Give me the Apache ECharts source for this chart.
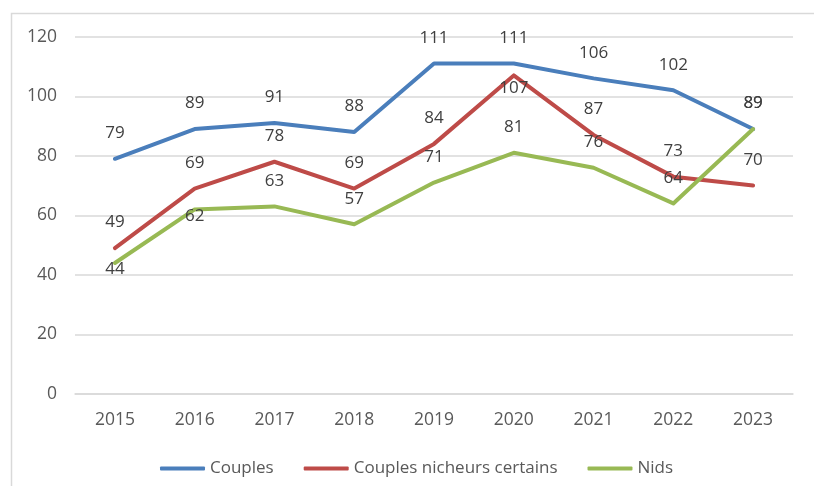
<!DOCTYPE html>
<html>
<head>
<meta charset="utf-8">
<script src="https://cdn.jsdelivr.net/npm/echarts@6/dist/echarts.min.js"></script>
<style>
html,body{margin:0;padding:0;background:#fff;}
#chart{width:814px;height:486px;}
</style>
</head>
<body>
<div id="chart"></div>
<script>
const years = ['2015','2016','2017','2018','2019','2020','2021','2022','2023'];
const couples = [79, 89, 91, 88, 111, 111, 106, 102, 89];
const couplesNicheurs = [49, 69, 78, 69, 84, 107, 87, 73, 70];
const nids = [44, 62, 63, 57, 71, 81, 76, 64, 89];
const yTicks = {min: 0, max: 120, interval: 20};

// manual label nudges (pixels, vertical) for labels moved in the original
const labelNudge = {
  couplesNicheurs: {5: 38},
  nids: {0: 32, 1: 32}
};

const FONT = '"Open Sans", "Liberation Sans", sans-serif';

function withNudges(values, nudges) {
  return values.map((v, i) => {
    if (nudges && nudges[i] !== undefined) {
      return {value: v, label: {offset: [0, nudges[i]]}};
    }
    return v;
  });
}

function lineSeries(name, values, color, nudges) {
  return {
    name: name,
    type: 'line',
    data: withNudges(values, nudges),
    symbol: 'circle',
    symbolSize: 0.1,
    showSymbol: true,
    showAllSymbol: true,
    lineStyle: {width: 4, color: color, cap: 'round', join: 'round'},
    itemStyle: {color: color},
    label: {
      show: true,
      position: 'top',
      distance: 17,
      color: '#404040',
      fontFamily: FONT,
      fontSize: 17,
      lineHeight: 17
    },
    emphasis: {disabled: true},
    animation: false
  };
}

const chart = echarts.init(document.getElementById('chart'), null, {renderer: 'canvas'});
chart.setOption({
  backgroundColor: '#ffffff',
  animation: false,
  graphic: [{
    type: 'rect',
    shape: {x: 11.5, y: 13.5, width: 900, height: 600},
    style: {fill: 'none', stroke: '#d9d9d9', lineWidth: 1.5},
    silent: true,
    z: -10
  }],
  grid: {left: 75, right: 21, top: 36.7, bottom: 92, containLabel: false},
  legend: {
    left: 155,
    top: 455,
    itemWidth: 45,
    itemHeight: 4,
    itemGap: 30,
    icon: 'roundRect',
    textStyle: {color: '#595959', fontFamily: FONT, fontSize: 17},
    data: ['Couples', 'Couples nicheurs certains', 'Nids']
  },
  xAxis: {
    type: 'category',
    data: years,
    boundaryGap: true,
    axisLine: {show: true, lineStyle: {color: '#d9d9d9', width: 1.5}},
    axisTick: {show: false},
    axisLabel: {color: '#595959', fontFamily: FONT, fontSize: 17.5, margin: 17}
  },
  yAxis: {
    type: 'value',
    min: yTicks.min,
    max: yTicks.max,
    interval: yTicks.interval,
    axisLine: {show: false},
    axisTick: {show: false},
    splitLine: {lineStyle: {color: '#d9d9d9', width: 1.5}},
    axisLabel: {color: '#595959', fontFamily: FONT, fontSize: 17.5, margin: 18}
  },
  series: [
    lineSeries('Couples', couples, '#4a7ebb'),
    lineSeries('Couples nicheurs certains', couplesNicheurs, '#be4b48', labelNudge.couplesNicheurs),
    lineSeries('Nids', nids, '#98b954', labelNudge.nids)
  ]
});
</script>
</body>
</html>
